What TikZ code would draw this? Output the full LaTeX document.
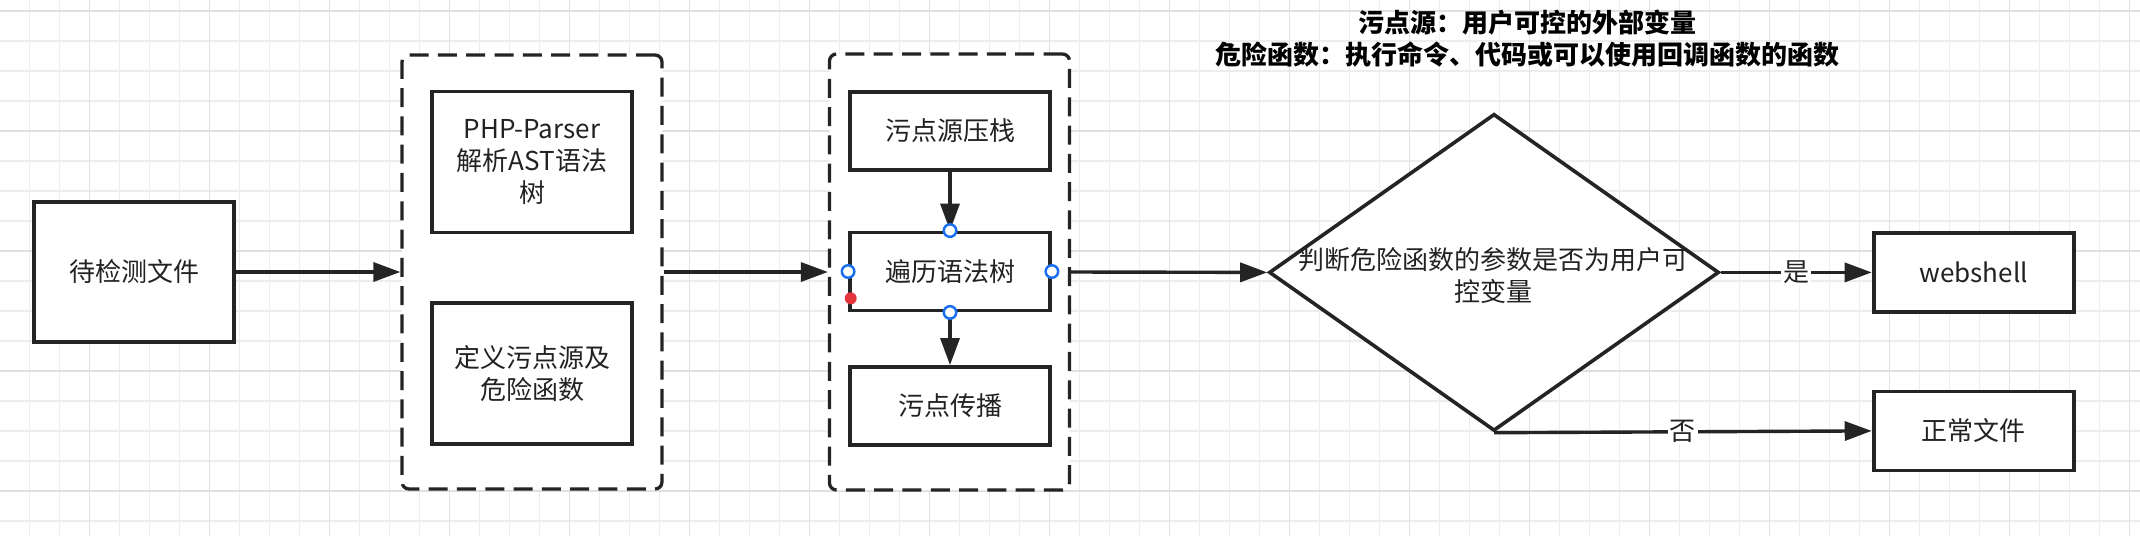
\documentclass[tikz,border=0pt]{standalone}
\usepackage{fontspec}
\setmainfont{Noto Sans CJK SC}
\usetikzlibrary{arrows.meta,shapes.geometric}
\definecolor{ink}{HTML}{242424}
\definecolor{txt}{HTML}{222222}
\definecolor{gridminor}{HTML}{EDEDED}
\definecolor{gridmajor}{HTML}{E0E0E0}
\definecolor{handle}{HTML}{1A6FF0}
\definecolor{reddot}{HTML}{E5343D}
\begin{document}
\begin{tikzpicture}[x=1pt,y=-1pt,
  txtfont/.style={font=\fontsize{26pt}{32pt}\selectfont},
  box/.style={draw=ink, line width=3.8pt, fill=white, minimum width=200pt, text=txt, align=center, inner sep=0pt, txtfont},
  group/.style={draw=ink, line width=3.3pt, dash pattern=on 19pt off 9.3pt, rounded corners=7pt, fill=white, inner sep=0pt},
  arr/.style={draw=ink, line width=3.4pt, -{Triangle[length=27pt,width=19pt]}},
  lbl/.style={fill=white, text=txt, inner sep=2pt, txtfont},
  handlept/.style={circle, draw=handle, fill=white, line width=2.5pt, minimum size=12.5pt, inner sep=0pt},
  note/.style={text=black, inner sep=0pt, font=\fontsize{26pt}{32pt}\selectfont\bfseries}
]
\useasboundingbox (0,0) rectangle (2140,536);
\fill[white] (0,0) rectangle (2140,536);
% grid
\foreach \i in {0,...,71} \draw[gridminor, line width=1.6pt] ({\i*30-0.7},0) -- ({\i*30-0.7},536);
\foreach \j in {0,...,17} \draw[gridminor, line width=1.6pt] (0,{\j*30+10.7}) -- (2140,{\j*30+10.7});
\foreach \i in {0,...,17} \draw[gridmajor, line width=1.6pt] ({\i*120+89.3},0) -- ({\i*120+89.3},536);
\foreach \j in {0,...,4} \draw[gridmajor, line width=1.6pt] (0,{\j*120+10.7}) -- (2140,{\j*120+10.7});

% notes
\node[note] (n1) at (1527,23) {污点源：用户可控的外部变量};
\node[note] (n2) at (1527,55) {危险函数：执行命令、代码或可以使用回调函数的函数};

% input
\node[box, minimum height=140pt] (file) at (134,272) {待检测文件};

% group 1
\node[group, minimum width=260pt, minimum height=434pt] (g1) at (532,272) {};
\node[box, minimum height=141pt] (parse) at (532,162) {PHP-Parser\\解析AST语法\\树};
\node[box, minimum height=141pt] (def) at (532,373.5) {定义污点源及\\危险函数};

% group 2
\node[group, minimum width=240pt, minimum height=436pt] (g2) at (949.5,272) {};
\node[box, minimum height=78pt] (push) at (950,131) {污点源压栈};
\node[box, minimum height=78pt] (walk) at (950,271.5) {遍历语法树};
\node[box, minimum height=78pt] (prop) at (950,406) {污点传播};

% decision
\node[diamond, draw=ink, line width=3.6pt, fill=white, inner sep=0pt, minimum width=450pt, minimum height=317pt] (dia) at (1494,272.4) {};
\node[text=txt, align=center, inner sep=0pt, txtfont] (diatext) at (1493,275.5) {判断危险函数的参数是否为用户可\\控变量};

% outputs
\node[box, minimum height=79pt] (web) at (1973.6,272.4) {webshell};
\node[box, minimum height=79pt] (normal) at (1973.6,430.9) {正常文件};

% connectors
\draw[arr] (file.east) -- (g1.west);
\draw[arr] (g1.east) -- (g2.west);
\draw[arr] (g2.east) -- (dia.west);
\draw[arr] (push.south) -- (walk.north);
\draw[arr] (walk.south) -- (prop.north);
\draw[arr] (dia.east) -- node[lbl] {是} (web.west);
\draw[arr] (dia.south) -- node[lbl] {否} (normal.west);

% selection handles
\node[handlept] (hn) at (walk.north) {};
\node[handlept] (hs) at (walk.south) {};
\node[handlept] (hw) at (walk.west) {};
\node[handlept] (he) at (walk.east) {};
\fill[reddot] (850.7,298.3) circle (6pt);
\end{tikzpicture}
\end{document}
